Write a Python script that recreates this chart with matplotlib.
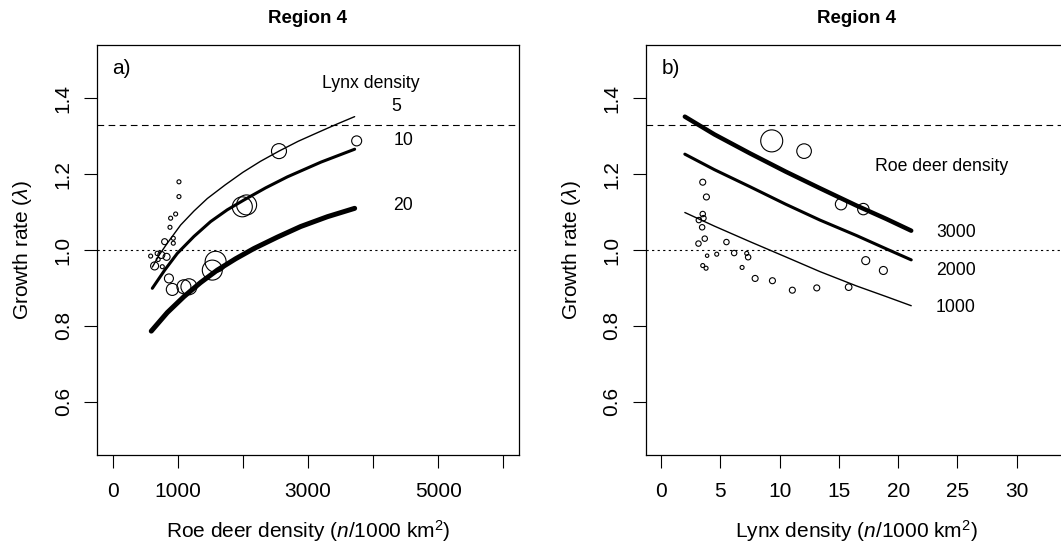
import numpy as np
import matplotlib
matplotlib.use("Agg")
import matplotlib.pyplot as plt

plt.rcParams['font.family'] = ['Liberation Sans', 'DejaVu Sans']
plt.rcParams['mathtext.fontset'] = 'custom'
plt.rcParams['mathtext.rm'] = 'Liberation Sans'
plt.rcParams['mathtext.it'] = 'Liberation Sans:italic'

# ---- panel a: growth rate vs roe deer density ----
a_obs_x = [1019, 1019, 968, 891, 881, 932, 932, 799, 687, 584, 748, 829, 645, 763,
           700, 865, 917, 1095, 1172, 1531, 1582, 1992, 2058, 2555, 3748]
a_obs_y = [1.180, 1.141, 1.095, 1.084, 1.060, 1.031, 1.018, 1.022, 0.991, 0.984, 0.987,
           0.982, 0.958, 0.956, 0.975, 0.925, 0.896, 0.903, 0.903, 0.947, 0.969, 1.114,
           1.119, 1.261, 1.288]
a_obs_w = [2, 2, 2, 2, 2, 2, 2, 3, 2.2, 2, 3.5, 3.5, 4, 2, 2, 4.5, 6, 7, 8, 10, 10.5,
           10, 10, 7.5, 5]

lynx5_x = [610, 720, 840, 1045, 1250, 1455, 1730, 2000, 2270, 2555, 2850, 3150, 3440, 3717]
lynx5_y = [0.955, 0.988, 1.018, 1.066, 1.103, 1.136, 1.172, 1.205, 1.234, 1.261, 1.287,
           1.310, 1.332, 1.352]
lynx10_x = [610, 800, 993, 1250, 1505, 1760, 2017, 2350, 2683, 3200, 3717]
lynx10_y = [0.899, 0.947, 0.991, 1.036, 1.075, 1.106, 1.132, 1.164, 1.193, 1.232, 1.266]
lynx20_x = [594, 840, 1095, 1350, 1608, 1890, 2171, 2530, 2888, 3300, 3717]
lynx20_y = [0.786, 0.835, 0.877, 0.914, 0.947, 0.977, 1.004, 1.034, 1.062, 1.088, 1.110]

# ---- panel b: growth rate vs lynx density ----
b_obs_x = [9.33, 12.06, 15.18, 17.06, 17.26, 18.75, 15.82, 13.13, 11.07, 9.39, 7.93,
           6.83, 7.34, 7.22, 6.16, 5.51, 4.69, 3.88, 3.79, 3.51, 3.15, 3.68, 3.46, 3.18,
           3.57, 3.51, 3.82, 3.51]
b_obs_y = [1.288, 1.261, 1.121, 1.108, 0.972, 0.946, 0.902, 0.900, 0.894, 0.919, 0.925,
           0.954, 0.981, 0.991, 0.992, 1.021, 0.989, 0.985, 0.952, 0.959, 1.017, 1.030,
           1.060, 1.079, 1.084, 1.095, 1.140, 1.179]
b_obs_w = [11, 7.3, 5.7, 5.7, 4, 4, 3.3, 3, 3, 3, 3, 2, 2.7, 2, 2.7, 2.7, 2, 1.7, 2,
           2, 2.7, 2.7, 2.7, 2.7, 2.7, 2.7, 3, 3]

roe3000_x = [2.0, 4.5, 7.5, 10.5, 13.4, 16.5, 19.0, 21.1]
roe3000_y = [1.352, 1.305, 1.255, 1.207, 1.163, 1.117, 1.082, 1.051]
roe2000_x = [2.0, 4.5, 7.5, 10.5, 13.4, 16.5, 19.0, 21.1]
roe2000_y = [1.253, 1.212, 1.167, 1.121, 1.079, 1.038, 1.003, 0.974]
roe1000_x = [2.0, 4.5, 7.5, 10.5, 13.4, 16.5, 19.0, 21.1]
roe1000_y = [1.099, 1.063, 1.022, 0.982, 0.943, 0.905, 0.877, 0.853]

y_ticks = [0.6, 0.8, 1.0, 1.2, 1.4]
a_xticks = [0, 1000, 2000, 3000, 4000, 5000, 6000]
a_xlabels = ['0', '1000', '', '3000', '', '5000', '']
b_xticks = [0, 5, 10, 15, 20, 25, 30]
b_xlabels = ['0', '5', '10', '15', '20', '25', '30']

fig = plt.figure(figsize=(10.61, 5.45), dpi=100)
ax1 = fig.add_axes([0.0914, 0.1651, 0.3977, 0.7523])
ax2 = fig.add_axes([0.6086, 0.1651, 0.3977, 0.7523])


def style(ax, xlim, xticks, xlabels, xlab):
    ax.set_xlim(*xlim)
    ax.set_ylim(0.459, 1.541)
    ax.set_xticks(xticks)
    ax.set_xticklabels(xlabels)
    ax.set_yticks(y_ticks)
    ax.set_yticklabels(['%.1f' % v for v in y_ticks])
    ax.tick_params(direction='out', length=9.4, width=0.8, labelsize=15)
    ax.tick_params(axis='x', pad=10)
    ax.tick_params(axis='y', labelrotation=90, pad=8)
    for lab in ax.get_yticklabels():
        lab.set_va('center')
    for s in ax.spines.values():
        s.set_linewidth(0.9)
    ax.axhline(1.33, color='black', lw=0.8, ls=(0, (6, 4)))
    ax.axhline(1.0, color='black', lw=0.8, ls=(0, (2, 3)))
    ax.set_xlabel(xlab, fontsize=15, labelpad=12)
    ax.set_ylabel(r'Growth rate ($\lambda$)', fontsize=15, labelpad=14)
    ax.set_title('Region 4', fontsize=13.5, fontweight='bold', pad=16)


style(ax1, (-240, 6240), a_xticks, a_xlabels, r'Roe deer density ($n$/1000 km$^2$)')
style(ax2, (-1.3, 34.3), b_xticks, b_xlabels, r'Lynx density ($n$/1000 km$^2$)')

k = 0.72 * 2
ax1.scatter(a_obs_x, a_obs_y, s=(np.array(a_obs_w) * k) ** 2, facecolors='none',
            edgecolors='black', linewidths=0.8, zorder=3)
ax1.plot(lynx5_x, lynx5_y, color='black', lw=1.0, solid_capstyle='round')
ax1.plot(lynx10_x, lynx10_y, color='black', lw=2.2, solid_capstyle='round')
ax1.plot(lynx20_x, lynx20_y, color='black', lw=3.6, solid_capstyle='round')
ax1.text(3963, 1.440, 'Lynx density', fontsize=12.7, ha='center', va='center')
ax1.text(4362, 1.380, '5', fontsize=12.7, ha='center', va='center')
ax1.text(4465, 1.288, '10', fontsize=12.7, ha='center', va='center')
ax1.text(4465, 1.117, '20', fontsize=12.7, ha='center', va='center')
ax1.text(0.059, 0.942, 'a)', transform=ax1.transAxes, fontsize=15, ha='center', va='center')

ax2.scatter(b_obs_x, b_obs_y, s=(np.array(b_obs_w) * k) ** 2, facecolors='none',
            edgecolors='black', linewidths=0.8, zorder=3)
ax2.plot(roe1000_x, roe1000_y, color='black', lw=1.0, solid_capstyle='round')
ax2.plot(roe2000_x, roe2000_y, color='black', lw=2.2, solid_capstyle='round')
ax2.plot(roe3000_x, roe3000_y, color='black', lw=3.2, solid_capstyle='round')
ax2.text(23.67, 1.220, 'Roe deer density', fontsize=12.7, ha='center', va='center')
ax2.text(24.85, 1.047, '3000', fontsize=12.7, ha='center', va='center')
ax2.text(24.85, 0.947, '2000', fontsize=12.7, ha='center', va='center')
ax2.text(24.85, 0.848, '1000', fontsize=12.7, ha='center', va='center')
ax2.text(0.059, 0.942, 'b)', transform=ax2.transAxes, fontsize=15, ha='center', va='center')

fig.savefig('out.png', dpi=100)
